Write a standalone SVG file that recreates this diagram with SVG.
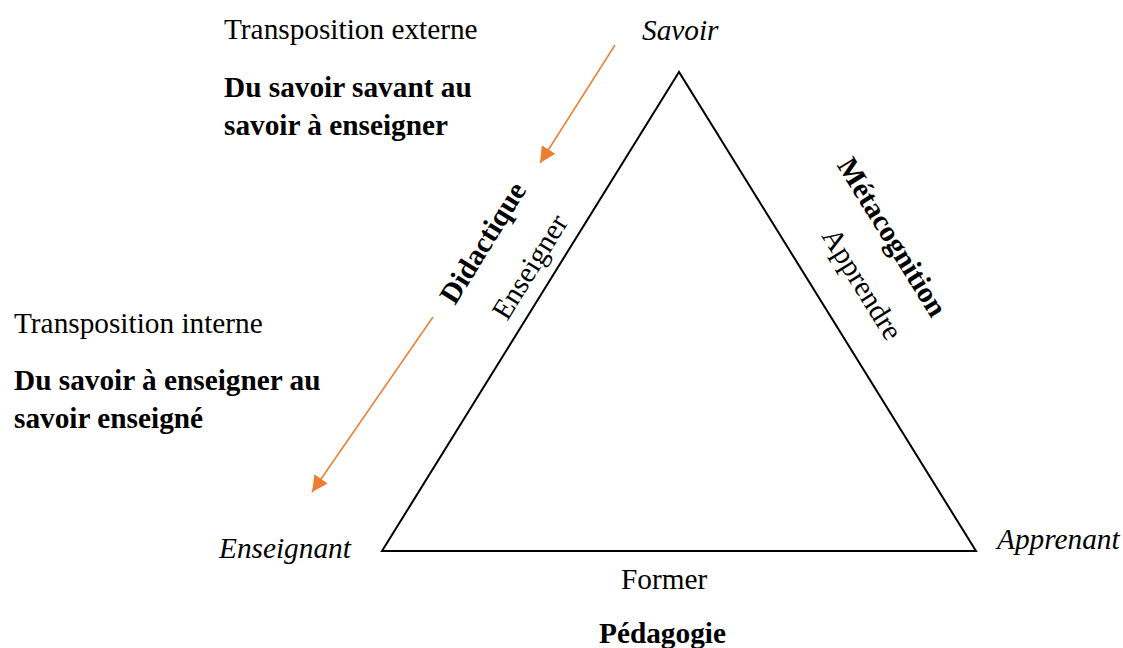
<svg xmlns="http://www.w3.org/2000/svg" width="1123" height="648" viewBox="0 0 1123 648">
<style>
text{font-family:"Liberation Serif","Times New Roman",serif;font-size:29.3px;fill:#000}
.b{font-weight:bold}
.i{font-style:italic}
.arr{stroke:#ED7D31;stroke-width:1.5;fill:none}
.tri{stroke:#000;stroke-width:2;fill:none}
</style>
<defs>
<marker id="ah" markerUnits="userSpaceOnUse" markerWidth="18" markerHeight="16" refX="16" refY="8" orient="auto">
<path d="M0,0 L16,8 L0,16 Z" fill="#ED7D31"/>
</marker>
</defs>
<rect width="1123" height="648" fill="#fff"/>
<g id="triangle">
<polygon class="tri" points="679,72 382,551 976,551"/>
</g>
<g id="connectors">
<line class="arr" x1="615" y1="45" x2="540" y2="163" marker-end="url(#ah)"/>
<line class="arr" x1="433" y1="317" x2="312" y2="492" marker-end="url(#ah)"/>
</g>
<g id="savoir"><text class="i" x="642" y="40">Savoir</text></g>
<g id="enseignant"><text class="i" x="219" y="558">Enseignant</text></g>
<g id="apprenant"><text class="i" x="997" y="549">Apprenant</text></g>
<g id="transposition-externe">
<text x="224" y="39">Transposition externe</text>
<text class="b" x="224" y="97">Du savoir savant au</text>
<text class="b" x="224" y="135">savoir à enseigner</text>
</g>
<g id="transposition-interne">
<text x="14" y="333">Transposition interne</text>
<text class="b" x="14" y="390">Du savoir à enseigner au</text>
<text class="b" x="14" y="428">savoir enseigné</text>
</g>
<g id="didactique">
<text class="b" text-anchor="middle" transform="translate(491,248) rotate(-58.2)">Didactique</text>
<text text-anchor="middle" transform="translate(538,272) rotate(-58.2)">Enseigner</text>
</g>
<g id="metacognition">
<text class="b" text-anchor="middle" transform="translate(884,242) rotate(58.2)">Métacognition</text>
<text text-anchor="middle" transform="translate(854,289) rotate(58.2)">Apprendre</text>
</g>
<g id="pedagogie">
<text x="621" y="589">Former</text>
<text class="b" x="599" y="643">Pédagogie</text>
</g>
</svg>
